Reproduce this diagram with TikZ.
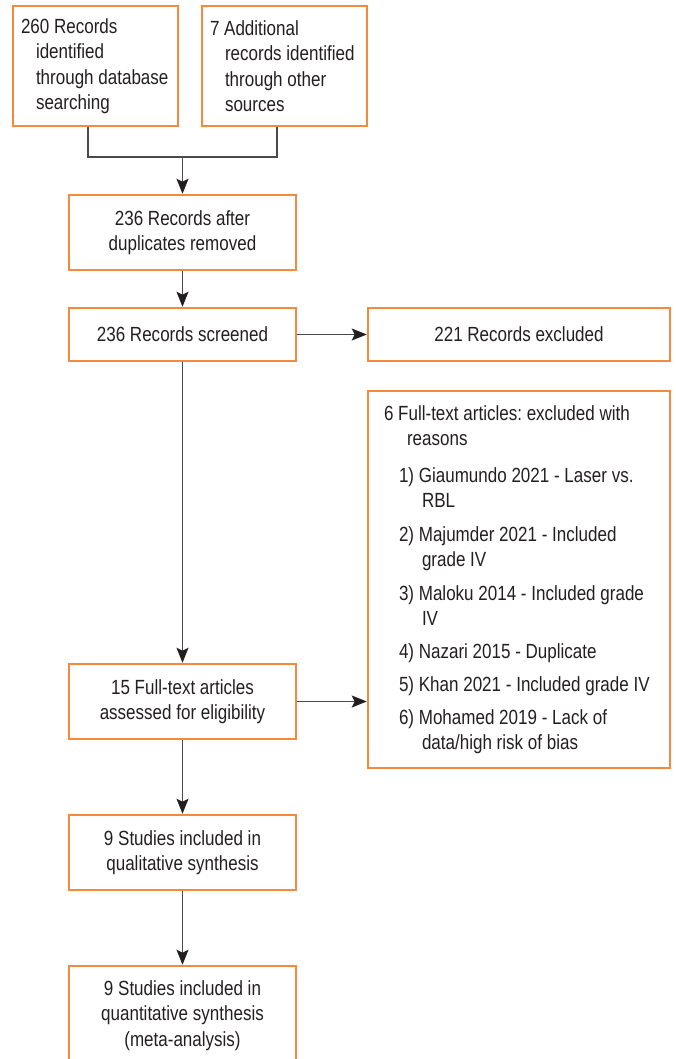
\documentclass[tikz,border=0pt]{standalone}
\usepackage{fontspec}
\setmainfont{Liberation Sans}[FakeStretch=0.83]
\usetikzlibrary{arrows.meta}
\definecolor{boxorange}{HTML}{F58A3E}
\definecolor{linegray}{HTML}{4A4A4A}
\definecolor{txt}{HTML}{231F20}
\newcommand\hangfirst[1]{\hangindent=#1\hangafter=1\relax}
\begin{document}
\begin{tikzpicture}[x=1pt,y=-1pt,
  font=\fontsize{20.5}{25.5}\selectfont\frenchspacing,
  box/.style={draw=boxorange,line width=1.3pt,text=txt,inner sep=0pt,align=center},
  conn/.style={draw=linegray,line width=1.3pt},
  arr/.style={conn,-{Stealth[length=15pt,width=12pt,inset=3pt,color=txt]},shorten >=0.6pt}]
\useasboundingbox (0,0) rectangle (676,1059);

\node[box,minimum width=165pt,minimum height=120pt] (A) at (95.5,66)
  {\parbox{149pt}{\hangfirst{15pt}260 Records\newline identified\newline through database\newline searching}};
\node[box,minimum width=165pt,minimum height=120pt] (B) at (284.5,66)
  {\parbox{149pt}{\hangfirst{15pt}7 Additional\newline records identified\newline through other\newline sources}};
\node[box,minimum width=227pt,minimum height=75pt] (C) at (182.5,232.5)
  {236 Records after\\duplicates removed};
\node[box,minimum width=227pt,minimum height=53pt] (D) at (182.5,334.5)
  {236 Records screened};
\node[box,minimum width=302pt,minimum height=53pt] (E) at (519,334.5)
  {221 Records excluded};
\node[box,minimum width=302pt,minimum height=377pt] (F) at (519,579.5)
  {\parbox{270pt}{
   \hangfirst{23pt}6 Full-text articles: excluded with\newline reasons\par
   \vspace{11pt}\leftskip=15pt
   \hangfirst{23pt}1) Giaumundo 2021 - Laser vs.\newline RBL\par\vspace{8pt}
   \hangfirst{23pt}2) Majumder 2021 - Included\newline grade IV\par\vspace{8pt}
   \hangfirst{23pt}3) Maloku 2014 - Included grade\newline IV\par\vspace{7pt}
   \hangfirst{23pt}4) Nazari 2015 - Duplicate\par\vspace{8pt}
   \hangfirst{23pt}5) Khan 2021 - Included grade IV\par\vspace{7pt}
   \hangfirst{23pt}6) Mohamed 2019 - Lack of\newline data/high risk of bias\par}};
\node[box,minimum width=227pt,minimum height=75pt] (G) at (182.5,701.5)
  {15 Full-text articles\\assessed for eligibility};
\node[box,minimum width=227pt,minimum height=75pt] (H) at (182.5,852.5)
  {9 Studies included in\\qualitative synthesis};
\node[box,minimum width=227pt,minimum height=99pt] (I) at (182.5,1015.5)
  {9 Studies included in\\quantitative synthesis\\(meta-analysis)};

\coordinate (j) at (182.5,157);
\draw[conn] ([xshift=-7.5pt]A.south) |- (j) -| ([xshift=-7.5pt]B.south);
\draw[arr] (j) -- (C.north);
\draw[arr] (C.south) -- (D.north);
\draw[arr] (D.east) -- (E.west);
\draw[arr] (D.south) -- (G.north);
\draw[arr] (G.east) -- (G.east -| F.west);
\draw[arr] (G.south) -- (H.north);
\draw[arr] (H.south) -- (I.north);
\end{tikzpicture}
\end{document}
